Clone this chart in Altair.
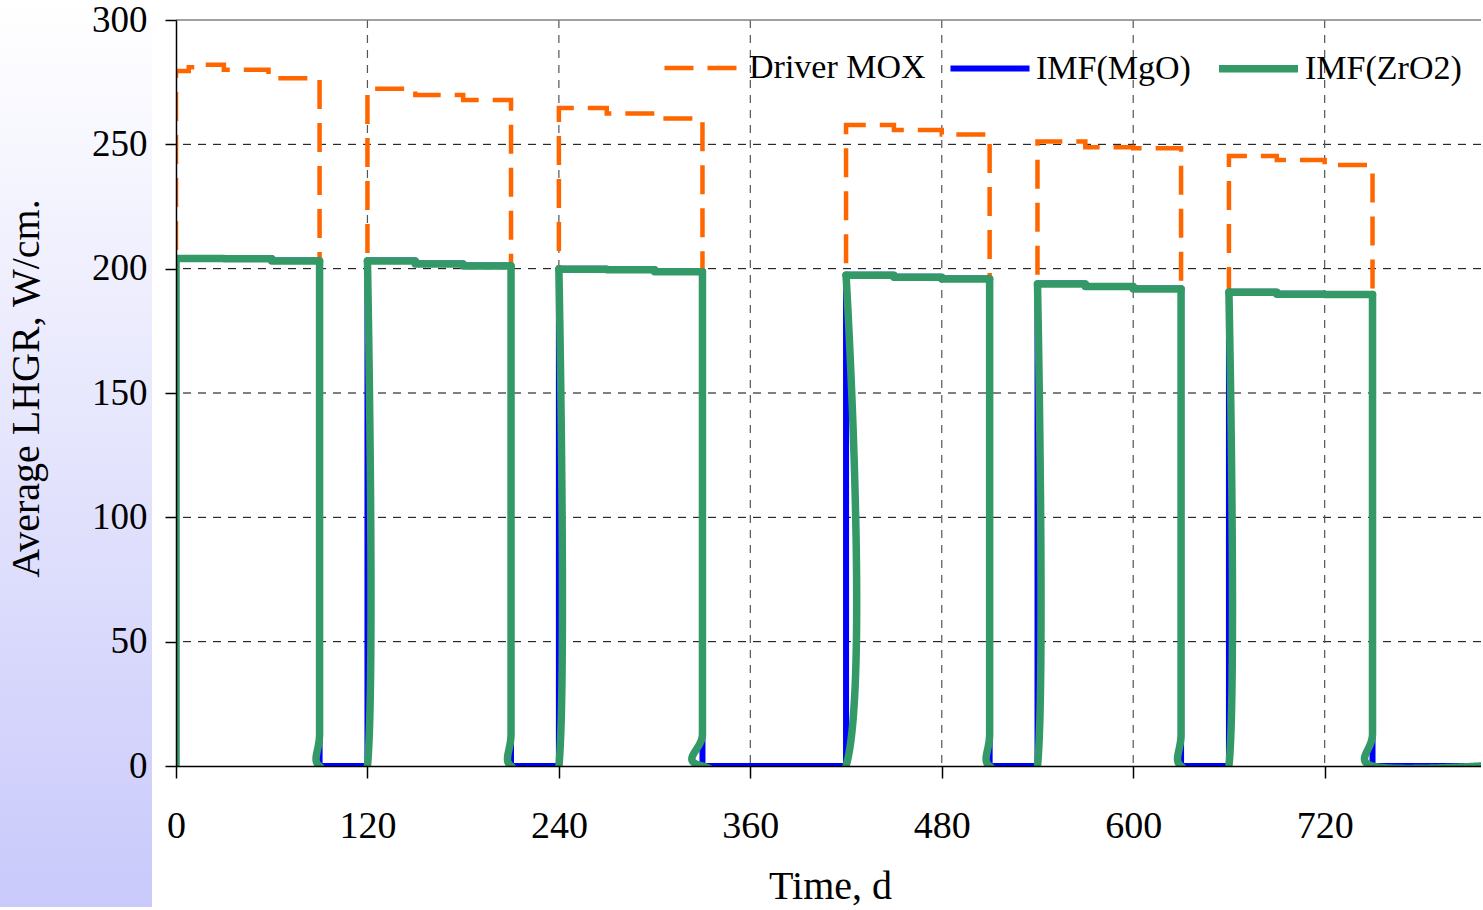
import altair as alt
import pandas as pd

# ---------------- data ----------------
cycle_start = [0, 120, 240, 420, 540, 660]
cycle_end = [90, 210, 330, 510, 630, 750]
last_day = 818

series_names = ["Driver MOX", "IMF(MgO)", "IMF(ZrO2)"]

mox_offsets = [[0, 8, 12, 30, 58, 62], [0, 30, 60], [0, 30, 60],
               [0, 30, 60], [0, 30, 60], [0, 30, 60]]
mox_values = [[279.5, 281.0, 282.0, 280.0, 278.0, 276.6],
              [272.4, 269.8, 267.8],
              [264.6, 262.4, 260.4],
              [257.8, 255.8, 254.0],
              [251.1, 248.8, 248.4],
              [245.3, 243.7, 241.7]]

imf_offsets = [0, 30, 60]
imf_mgo_values = [[204.3, 204.2, 203.3],
                  [203.3, 202.1, 201.3],
                  [200.0, 199.8, 199.0],
                  [197.6, 196.7, 196.0],
                  [194.0, 193.0, 192.0],
                  [190.7, 189.9, 189.8]]
imf_zro2_values = [[204.1, 204.0, 203.1],
                   [203.1, 201.9, 201.1],
                   [199.8, 199.6, 198.8],
                   [197.4, 196.5, 195.8],
                   [193.8, 192.8, 191.8],
                   [190.5, 189.7, 189.6]]
shutdown_tail = [40, 13]  # IMF power right after each shutdown

x_ticks = [0, 120, 240, 360, 480, 600, 720]
y_ticks = [0, 50, 100, 150, 200, 250, 300]
y_grid = [50, 100, 150, 200, 250]
x_grid = [120, 240, 360, 480, 600, 720]
y_top = [300]

# ---------------- table construction ----------------
rows = []


def add(series, seg, pts):
    for t, v in pts:
        rows.append({"series": series, "seg": seg, "t": t, "v": v, "i": len(rows)})


def plateau(start, end, offs, vals):
    pts = []
    for k, (o, val) in enumerate(zip(offs, vals)):
        nxt = start + offs[k + 1] if k + 1 < len(offs) else end
        pts.append((start + o, val))
        pts.append((nxt, val))
    return pts


# Driver MOX
pts = []
for c in range(len(cycle_start)):
    s, e = cycle_start[c], cycle_end[c]
    pts.append((s, 0))
    pts += plateau(s, e, mox_offsets[c], mox_values[c])
    pts.append((e, 0))
pts.append((last_day, 0))
add("Driver MOX", "m", pts)

# IMF(MgO)
pts = [(0, 0)]
for c in range(len(cycle_start)):
    s, e = cycle_start[c], cycle_end[c]
    if c > 0:
        pts.append((s, 0))
    pts += plateau(s, e, imf_offsets, imf_mgo_values[c])
    pts += [(e, v) for v in shutdown_tail] + [(e, 0)]
pts.append((last_day, 0))
add("IMF(MgO)", "b", pts)

# IMF(ZrO2): plateaus (straight) and transitions (smoothed)
n = len(cycle_start)
for c in range(n):
    s, e = cycle_start[c], cycle_end[c]
    p = ([(0, 0)] if c == 0 else []) + plateau(s, e, imf_offsets, imf_zro2_values[c])
    add("IMF(ZrO2)", "p%d" % c, p)
for c in range(n):
    e = cycle_end[c]
    tr = [(e, imf_zro2_values[c][-1])] + [(e, v) for v in shutdown_tail] + [(e, 0)]
    if c + 1 < n:
        sn = cycle_start[c + 1]
        tr += [(sn, 0), (sn, imf_zro2_values[c + 1][0])]
    else:
        tr += [(last_day, 0)]
    add("IMF(ZrO2)", "t%d" % c, tr)

df = pd.DataFrame(rows)

# ---------------- styling ----------------
FONT = "Liberation Serif"

xs = alt.Scale(domain=[0, last_day], nice=False, zero=False)
ys = alt.Scale(domain=[0, 300], nice=False)

x_axis = alt.Axis(values=x_ticks, grid=False, title="Time, d", tickSize=12, tickWidth=1.5,
                  tickColor="black", domainColor="black", domainWidth=1.5,
                  labelFont=FONT, labelFontSize=38, labelColor="black", labelPadding=29,
                  labelFlush=False, labelOverlap=False,
                  titleFont=FONT, titleFontSize=40, titleFontWeight="normal", titleColor="black",
                  titleX=654, titleY=132, titleBaseline="alphabetic", titleAlign="center",
                  zindex=1)
y_axis = alt.Axis(values=y_ticks, grid=False, title="Average LHGR, W/cm.", tickSize=11,
                  tickWidth=1.5, tickColor="black", domainColor="black", domainWidth=1.5,
                  labelFont=FONT, labelFontSize=37, labelColor="black", labelPadding=18,
                  labelFlush=False, labelOverlap=False,
                  titleFont=FONT, titleFontSize=40, titleFontWeight="normal", titleColor="black",
                  titleX=-138, titleY=368, titleAngle=270, titleBaseline="alphabetic",
                  titleAlign="center", zindex=1)

legend = alt.Legend(orient="none", legendX=486, legendY=5, direction="horizontal", title=None,
                    symbolType="stroke", symbolSize=6250, labelFont=FONT, labelFontSize=34,
                    labelColor="black", labelOffset=3, columnPadding=12, padding=0,
                    labelLimit=400)

color = alt.Color("series:N", scale=alt.Scale(domain=series_names,
                                               range=["#FF6600", "#0000FF", "#339966"]),
                  legend=legend)
dash = alt.StrokeDash("series:N", scale=alt.Scale(domain=series_names,
                                                   range=[[29, 14], [1, 0], [1, 0]]),
                      legend=legend)
width_enc = alt.StrokeWidth("series:N", scale=alt.Scale(domain=series_names,
                                                        range=[4.5, 7.5, 4.5]),
                            legend=legend)


def xenc(field="t"):
    return alt.X(field + ":Q", scale=xs, axis=x_axis)


def yenc(field="v"):
    return alt.Y(field + ":Q", scale=ys, axis=y_axis)


base = alt.Chart(df)


def line_layer(filter_expr, **mark_kw):
    return base.transform_filter(filter_expr).mark_line(clip=True, **mark_kw).encode(
        x=xenc(), y=yenc(), color=color, strokeDash=dash, strokeWidth=width_enc,
        detail="seg:N", order=alt.Order("i:Q"))


mox_layer = line_layer("datum.series == 'Driver MOX'", strokeCap="butt")
mgo_layer = line_layer("datum.series == 'IMF(MgO)'", strokeJoin="round", strokeCap="round")
zr_plateau = line_layer("datum.series == 'IMF(ZrO2)' && indexof(datum.seg, 'p') == 0",
                        strokeJoin="round", strokeCap="round")
zr_trans = line_layer("datum.series == 'IMF(ZrO2)' && indexof(datum.seg, 't') == 0",
                      interpolate="cardinal", strokeJoin="round", strokeCap="round")

# left gradient band
band = alt.Chart(alt.Data(values=[{"k": 1}])).mark_rect(
    fill=alt.Gradient(gradient="linear",
                      stops=[alt.GradientStop(color="#ffffff", offset=0),
                             alt.GradientStop(color="#fbfbff", offset=0.08),
                             alt.GradientStop(color="#c9c9fb", offset=1)],
                      x1=0, x2=0, y1=0, y2=1),
    clip=False).encode(x=alt.value(-176), x2=alt.value(-24), y=alt.value(-20), y2=alt.value(890))

hgrid = alt.Chart(pd.DataFrame({"v": y_grid})).mark_rule(
    color="black", strokeDash=[8, 7], strokeWidth=1).encode(y=yenc())
vgrid = alt.Chart(pd.DataFrame({"t": x_grid})).mark_rule(
    color="#555555", strokeDash=[8, 7], strokeWidth=1.2).encode(x=xenc())
top_line = alt.Chart(pd.DataFrame({"v": y_top})).mark_rule(
    color="#808080", strokeWidth=1.5).encode(y=yenc())

chart = alt.layer(band, hgrid, vgrid, top_line, mox_layer, mgo_layer, zr_plateau, zr_trans).properties(
    width=1305, height=746,
    autosize=alt.AutoSizeParams(type="none"),
    padding={"left": 176, "top": 20, "right": 0, "bottom": 141},
    background="white",
).configure_view(stroke=None)

chart.save("out.html", embed_options={"renderer": "svg", "actions": False})
